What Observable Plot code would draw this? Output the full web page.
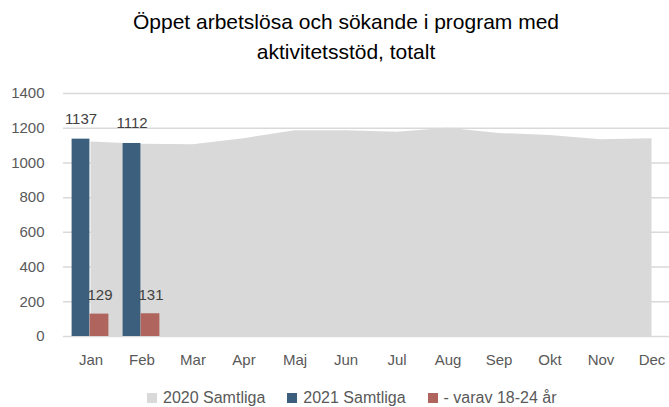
<!DOCTYPE html>
<html><head><meta charset="utf-8">
<script src="https://cdn.jsdelivr.net/npm/d3@7"></script>
<script src="https://cdn.jsdelivr.net/npm/@observablehq/plot@0.6"></script>
<style>
body{margin:0;background:#fff;font-family:"Liberation Sans",Arial,sans-serif;width:669px;overflow:hidden}
#title{margin-top:7px;height:60px;font-size:21px;line-height:30px;text-align:center;padding-left:23px;color:#000}
#legend{margin-top:6px;display:flex;align-items:center;font-size:16px;color:#595959;padding-left:147px;line-height:20px}
.sw{width:10px;height:10px;display:inline-block;margin-right:6px}
.it{display:flex;align-items:center;margin-right:22px}
</style></head>
<body>
<div id="title">Öppet arbetslösa och sökande i program med<br>aktivitetsstöd, totalt</div>
<div id="chart"></div>
<div id="legend"></div>
<script>
const months = ["Jan","Feb","Mar","Apr","Maj","Jun","Jul","Aug","Sep","Okt","Nov","Dec"];
const samtliga2020 = [1120,1108,1105,1140,1185,1185,1177,1200,1170,1158,1133,1140];
const samtliga2021 = [1137,1112];
const varav2021 = [129,131];
const yTicks = [0,200,400,600,800,1000,1200,1400];
const seriesNames = ["2020 Samtliga","2021 Samtliga","- varav 18-24 år"];
const colors = ["#d9d9d9","#3d5f7e","#b0645e"];

const areaData = months.map((m,i)=>({month:m, v:samtliga2020[i]}));
const d2021 = samtliga2021.map((v,i)=>({month:months[i], v}));
const dVarav = varav2021.map((v,i)=>({month:months[i], v}));

const chart = Plot.plot({
  width: 669, height: 315,
  marginTop: 26, marginBottom: 46, marginLeft: 63, marginRight: 0,
  style: {fontFamily: '"Liberation Sans", Arial, sans-serif', fontSize: "15px", color: "#595959", background: "white"},
  x: {type: "band", domain: months, range: [63.4, 677.6], padding: 0, tickSize: 0, tickPadding: 18, label: null},
  y: {domain: [0, 1400], ticks: yTicks, tickFormat: d => String(d), tickSize: 0, tickPadding: 19, label: null},
  marks: [
    Plot.ruleY(yTicks, {stroke: "#d9d9d9", strokeWidth: 1.5}),
    Plot.areaY(areaData, {x: "month", y: "v", fill: colors[0]}),
    Plot.barY(d2021, {x: "month", y: "v", fill: colors[1], insetLeft: 6.6, insetRight: 26.6}),
    Plot.barY(dVarav, {x: "month", y: "v", fill: colors[2], insetLeft: 24.6, insetRight: 7.6}),
    Plot.text(d2021, {x: "month", y: "v", text: d => String(d.v), dx: -10, dy: -20, fill: "#404040", fontSize: 15}),
    Plot.text(dVarav, {x: "month", y: "v", text: d => String(d.v), dx: 9, dy: -19, fill: "#404040", fontSize: 15})
  ]
});
document.getElementById("chart").appendChild(chart);

const leg = document.getElementById("legend");
seriesNames.forEach((n,i)=>{
  const it = document.createElement("span"); it.className="it";
  const sw = document.createElement("span"); sw.className="sw"; sw.style.background=colors[i];
  it.appendChild(sw); it.appendChild(document.createTextNode(n));
  leg.appendChild(it);
});
</script>
</body></html>
